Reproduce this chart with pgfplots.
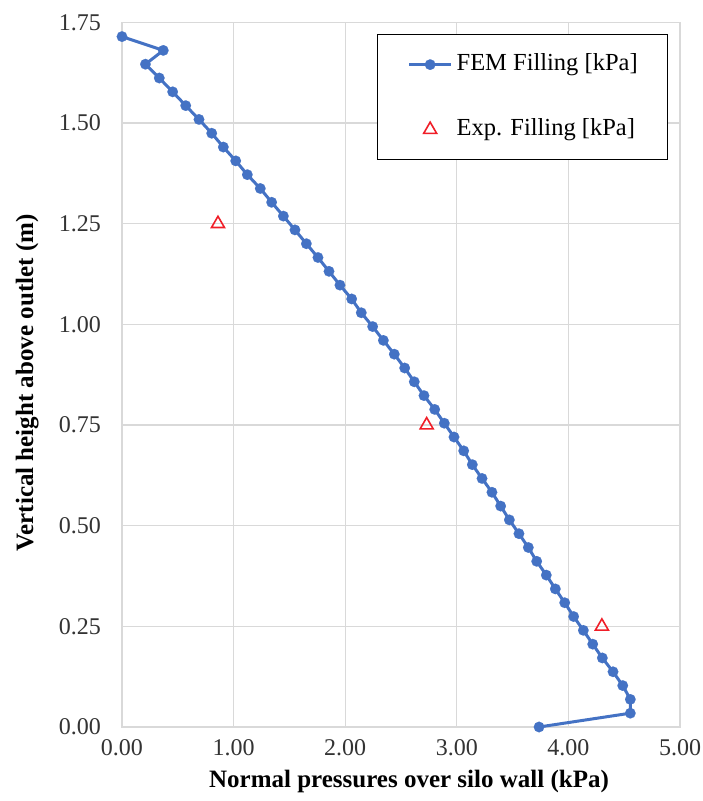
\documentclass[border=0pt]{standalone}
\usepackage{fontspec}
\setmainfont{Liberation Serif}
\usepackage{pgfplots}
\pgfplotsset{compat=1.18}
\usepackage{pgfplotstable}
\definecolor{femblue}{HTML}{4472C4}
\definecolor{expred}{HTML}{F01E28}
\definecolor{gridgray}{HTML}{D9D9D9}
\pgfplotstableread{
x y
3.737 0.0000
4.555 0.0343
4.555 0.0686
4.487 0.1029
4.400 0.1372
4.304 0.1715
4.218 0.2058
4.134 0.2401
4.047 0.2744
3.967 0.3087
3.883 0.3430
3.802 0.3773
3.716 0.4116
3.641 0.4459
3.557 0.4802
3.471 0.5145
3.393 0.5488
3.315 0.5831
3.226 0.6174
3.139 0.6517
3.062 0.6860
2.975 0.7203
2.888 0.7546
2.802 0.7889
2.706 0.8232
2.619 0.8575
2.533 0.8918
2.440 0.9261
2.342 0.9604
2.246 0.9947
2.144 1.0290
2.058 1.0633
1.953 1.0976
1.855 1.1319
1.756 1.1662
1.652 1.2005
1.550 1.2348
1.446 1.2691
1.341 1.3034
1.239 1.3377
1.123 1.3720
1.019 1.4063
0.908 1.4406
0.804 1.4749
0.690 1.5092
0.571 1.5435
0.454 1.5778
0.334 1.6121
0.210 1.6464
0.370 1.6807
0.000 1.7150
}\femdata
\pgfplotstableread{
x y
0.86 1.25
2.73 0.75
4.30 0.25
}\expdata
\begin{document}
\begin{tikzpicture}
\useasboundingbox (-122pt,-74pt) rectangle (580pt,727pt);
\begin{axis}[
  at={(0,0)}, anchor=south west,
  scale only axis,
  width=558pt, height=704.5pt,
  xmin=0, xmax=5, ymin=0, ymax=1.75,
  xtick={0,1,2,3,4,5},
  ytick={0,0.25,0.5,0.75,1,1.25,1.5,1.75},
  major tick length=0pt,
  grid=major,
  major grid style={draw=gridgray, line width=1.3pt},
  axis line style={draw=gridgray, line width=1.3pt},
  /pgf/number format/assume math mode=true,
  /pgf/number format/.cd, fixed, fixed zerofill, precision=2, /pgfplots/.cd,
  ticklabel style={font=\fontsize{24}{28}\selectfont, text=black!80},
  yticklabel style={anchor=east, inner sep=0pt, xshift=-21pt},
  xticklabel style={anchor=north, inner sep=0pt, yshift=-12pt},
  xlabel={Normal pressures over silo wall (kPa)},
  ylabel={Vertical height above outlet (m)},
  label style={font=\fontsize{25}{30}\selectfont\bfseries},
  xlabel style={at={(axis description cs:0.5,0)}, anchor=center, yshift=-54pt, xshift=8pt},
  ylabel style={at={(axis description cs:-0.170,0.4886)}, anchor=center, rotate=0},
  legend style={at={(0.457,0.9837)}, anchor=north west, draw=black, line width=1.3pt,
    font=\fontsize{24.5}{28}\selectfont, inner xsep=30pt, inner ysep=19pt, row sep=43pt,
    nodes={inner sep=0pt, text height=17pt, text depth=5pt, line width=1.3pt}},
  legend cell align=left,
  legend image code/.code={
    \draw[mark repeat=2,mark phase=2,#1] plot coordinates {(0pt,0pt) (21pt,0pt) (42pt,0pt)};
  },
]
\addplot[color=femblue, line width=3pt, mark=*, mark size=5.3pt, mark options={fill=femblue, draw=femblue, line width=0.1pt, scale=1}] table[x=x,y=y] {\femdata};
\addlegendentry{\hspace{4pt}FEM Filling [kPa]}
\addplot[only marks, color=expred, mark=triangle, mark size=7.5pt, mark options={line width=1.6pt, draw=expred, fill=none}] table[x=x,y=y] {\expdata};
\addlegendentry{\hspace{4pt}Exp. Filling [kPa]}
\end{axis}
\end{tikzpicture}
\end{document}
